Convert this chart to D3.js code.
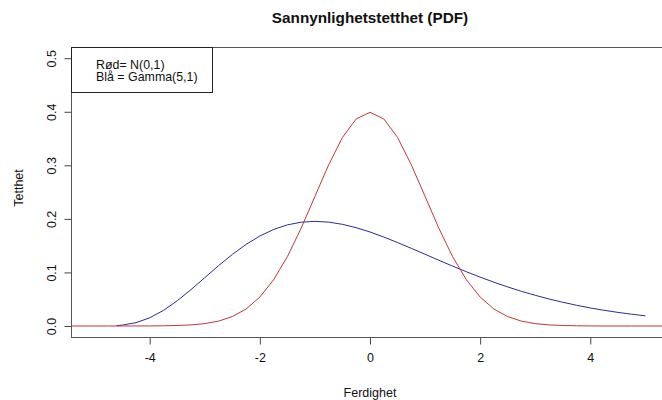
<!DOCTYPE html>
<html>
<head>
<meta charset="utf-8">
<script src="https://cdn.jsdelivr.net/npm/d3@7"></script>
<style>
  body { margin: 0; background: #fff; }
  text { font-family: "Liberation Sans", Arial, sans-serif; fill: #111; }
</style>
</head>
<body>
<script>
// tick labels
var xTicks = [-4, -2, 0, 2, 4];
var yTicks = [0, 0.1, 0.2, 0.3, 0.4, 0.5];

// red curve, N(0,1)
var redX = [-5.5, -5.25, -5, -4.75, -4.5, -4.25, -4, -3.75, -3.5, -3.25, -3, -2.75, -2.5, -2.25,
            -2, -1.75, -1.5, -1.25, -1, -0.75, -0.5, -0.25, 0, 0.25, 0.5, 0.75, 1, 1.25, 1.5,
            1.75, 2, 2.25, 2.5, 2.75, 3, 3.25, 3.5, 3.75, 4, 4.25, 4.5, 4.75, 5, 5.25, 5.5];
var redY = [0, 0, 0, 0, 0, 0, 0.0001, 0.0004, 0.0009, 0.002, 0.0044, 0.0091, 0.0175, 0.0317,
            0.054, 0.0863, 0.1295, 0.1826, 0.242, 0.3011, 0.3521, 0.3867, 0.3989, 0.3867, 0.3521,
            0.3011, 0.242, 0.1826, 0.1295, 0.0863, 0.054, 0.0317, 0.0175, 0.0091, 0.0044, 0.002,
            0.0009, 0.0004, 0.0001, 0, 0, 0, 0, 0, 0];

// blue curve, Gamma(5,1) moved to the left
var blueX = [-4.6, -4.5, -4.25, -4, -3.75, -3.5, -3.25, -3, -2.75, -2.5, -2.25, -2, -1.75, -1.5,
             -1.25, -1, -0.75, -0.5, -0.25, 0, 0.25, 0.5, 0.75, 1, 1.25, 1.5, 1.75, 2, 2.25,
             2.5, 2.75, 3, 3.25, 3.5, 3.75, 4, 4.25, 4.5, 4.75, 5];
var blueY = [0.0007, 0.0016, 0.0062, 0.0153, 0.0291, 0.0471, 0.0679, 0.0902, 0.1126, 0.1336,
             0.1523, 0.168, 0.1802, 0.1888, 0.1938, 0.1954, 0.1939, 0.1898, 0.1835, 0.1755,
             0.1661, 0.1558, 0.145, 0.1339, 0.1227, 0.1118, 0.1013, 0.0912, 0.0818, 0.0729,
             0.0647, 0.0573, 0.0504, 0.0443, 0.0387, 0.0337, 0.0293, 0.0254, 0.022, 0.0189];

var width = 662, height = 400;
// plot region (window.top is taken, so no "top" here)
var pLeft = 71.5, pRight = 668.5, pTop = 47.5, pBottom = 337.5;

var svg = d3.select("body").append("svg")
    .attr("width", width)
    .attr("height", height);

var x = d3.scaleLinear().domain([-5.42, 5.42]).range([pLeft, pRight]);
var y = d3.scaleLinear().domain([-0.0215, 0.52]).range([pBottom, pTop]);

svg.append("clipPath").attr("id", "plotclip")
  .append("rect")
    .attr("x", pLeft).attr("y", pTop)
    .attr("width", pRight - pLeft).attr("height", pBottom - pTop);

// axes
var xAxis = svg.append("g")
    .attr("transform", "translate(0," + pBottom + ")")
    .call(d3.axisBottom(x).tickValues(xTicks).tickSize(7).tickSizeOuter(0)
        .tickFormat(function (d) { return d; }));
xAxis.select(".domain").remove();
xAxis.selectAll("line").attr("stroke", "#444");
xAxis.selectAll("text")
    .attr("y", 16)
    .style("font-size", "12.5px");

var yAxis = svg.append("g")
    .attr("transform", "translate(" + pLeft + ",0)")
    .call(d3.axisLeft(y).tickValues(yTicks).tickSize(7).tickSizeOuter(0)
        .tickFormat(d3.format(".1f")));
yAxis.select(".domain").remove();
yAxis.selectAll("line").attr("stroke", "#444");
yAxis.selectAll("text")
    .attr("x", 0)
    .attr("text-anchor", "middle")
    .attr("transform", "translate(-20,0) rotate(-90)")
    .attr("dy", "0.35em")
    .style("font-size", "12.5px");

// plot box
svg.append("rect")
    .attr("x", pLeft).attr("y", pTop)
    .attr("width", pRight - pLeft).attr("height", pBottom - pTop)
    .attr("fill", "none")
    .attr("stroke", "#555");

var line = d3.line()
    .x(function (d) { return x(d[0]); })
    .y(function (d) { return y(d[1]); });

var curves = svg.append("g").attr("clip-path", "url(#plotclip)");

curves.append("path")
    .datum(d3.zip(blueX, blueY))
    .attr("d", line)
    .attr("fill", "none")
    .attr("stroke", "#2b2b9a")
    .attr("stroke-width", 1);

curves.append("path")
    .datum(d3.zip(redX, redY))
    .attr("d", line)
    .attr("fill", "none")
    .attr("stroke", "#c03838")
    .attr("stroke-width", 1);

// legend
svg.append("rect")
    .attr("x", pLeft).attr("y", pTop)
    .attr("width", 212.5 - pLeft).attr("height", 92.5 - pTop)
    .attr("fill", "#fff")
    .attr("stroke", "#222");
svg.append("text").attr("x", 96).attr("y", 68.5)
    .style("font-size", "12.4px").text("Rød= N(0,1)");
svg.append("text").attr("x", 96).attr("y", 81)
    .style("font-size", "12.4px").text("Blå = Gamma(5,1)");

// titles
svg.append("text")
    .attr("x", (pLeft + pRight) / 2).attr("y", 23)
    .attr("text-anchor", "middle")
    .style("font-size", "15.3px").style("font-weight", "bold")
    .text("Sannynlighetstetthet (PDF)");

svg.append("text")
    .attr("x", (pLeft + pRight) / 2).attr("y", 397)
    .attr("text-anchor", "middle")
    .style("font-size", "12.5px")
    .text("Ferdighet");

svg.append("text")
    .attr("transform", "translate(23,188) rotate(-90)")
    .attr("text-anchor", "middle")
    .style("font-size", "12.5px")
    .text("Tetthet");
</script>
</body>
</html>
